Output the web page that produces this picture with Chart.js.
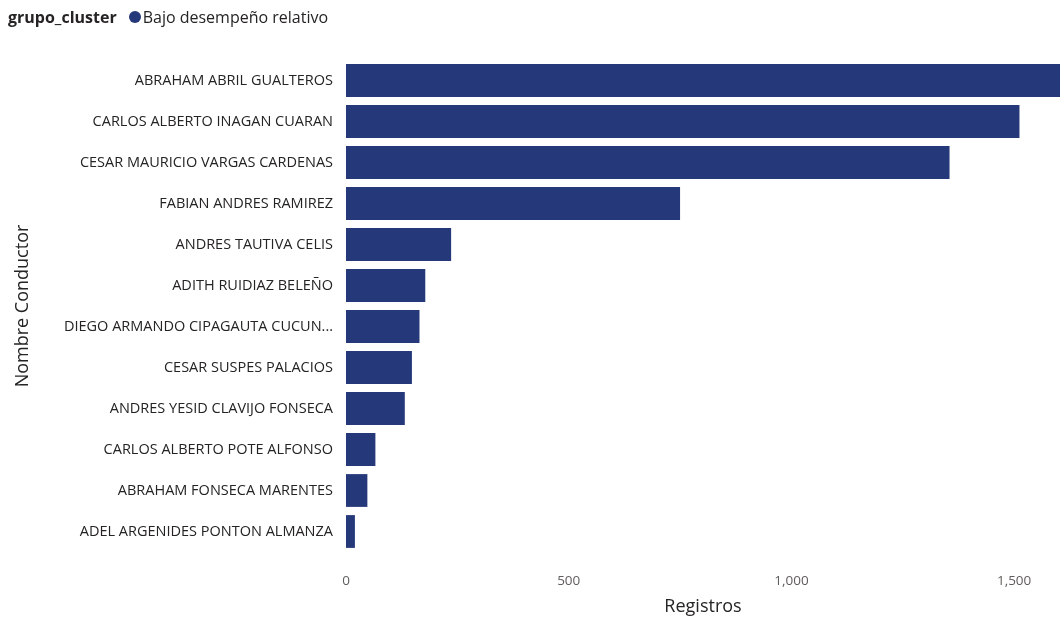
<!DOCTYPE html>
<html>
<head>
<meta charset="utf-8">
<script src="https://cdn.jsdelivr.net/npm/chart.js@4.4.1/dist/chart.umd.min.js"></script>
<style>
  html, body { margin: 0; padding: 0; background: #fff; }
  #wrap { position: relative; width: 1060px; height: 618px; }
  #legend { position: absolute; left: 8px; top: 6px; font-family: "Open Sans", sans-serif; font-size: 16px; color: #252423; display: flex; align-items: center; white-space: nowrap; line-height: 22px; }
  #legend b { font-weight: 700; margin-right: 12px; }
  #legend .dot { width: 12px; height: 12px; border-radius: 50%; background: rgb(37,57,122); display: inline-block; margin-right: 2px; }
</style>
</head>
<body>
<div id="wrap">
  <canvas id="c" width="1060" height="618"></canvas>
  <div id="legend"><b>grupo_cluster</b><span class="dot"></span><span>Bajo desempeño relativo</span></div>
</div>
<script>
const categories = [
  "ABRAHAM ABRIL GUALTEROS",
  "CARLOS ALBERTO INAGAN CUARAN",
  "CESAR MAURICIO VARGAS CARDENAS",
  "FABIAN ANDRES RAMIREZ",
  "ANDRES TAUTIVA CELIS",
  "ADITH RUIDIAZ BELEÑO",
  "DIEGO ARMANDO CIPAGAUTA CUCUN...",
  "CESAR SUSPES PALACIOS",
  "ANDRES YESID CLAVIJO FONSECA",
  "CARLOS ALBERTO POTE ALFONSO",
  "ABRAHAM FONSECA MARENTES",
  "ADEL ARGENIDES PONTON ALMANZA"
];
const registros = [1603, 1512, 1355, 750, 236, 178, 165, 148, 132, 66, 48, 20];
const seriesName = "Bajo desempeño relativo";
const xTicks = [0, 500, 1000, 1500];

const ctx = document.getElementById('c').getContext('2d');
new Chart(ctx, {
  type: 'bar',
  data: {
    labels: categories,
    datasets: [{
      label: seriesName,
      data: registros,
      backgroundColor: 'rgb(37,57,122)',
      borderWidth: 0,
      categoryPercentage: 1.0,
      barPercentage: 0.8
    }]
  },
  options: {
    indexAxis: 'y',
    responsive: false,
    animation: false,
    layout: { padding: { top: 60, right: 0, bottom: 0, left: 0 } },
    plugins: { legend: { display: false }, tooltip: { enabled: false } },
    scales: {
      x: {
        min: 0,
        max: Math.max(...registros),
        border: { display: false },
        grid: { display: false, drawTicks: false },
        afterBuildTicks: s => { s.ticks = xTicks.map(v => ({ value: v })); },
        ticks: {
          padding: 21,
          color: '#605E5C',
          font: { family: 'Open Sans', size: 13.5 },
          callback: v => v.toLocaleString('en-US'),
          maxRotation: 0,
          autoSkip: false
        },
        title: {
          display: true,
          text: 'Registros',
          color: '#252423',
          font: { family: 'Open Sans', size: 18 },
          padding: { top: 0, bottom: 0 }
        },
        afterFit: s => { s.height = 66; }
      },
      y: {
        border: { display: false },
        grid: { display: false, drawTicks: false },
        ticks: {
          padding: 13,
          color: '#252423',
          font: { family: 'Open Sans', size: 14.5 }
        },
        title: {
          display: true,
          text: 'Nombre Conductor',
          color: '#252423',
          font: { family: 'Open Sans', size: 18 },
          padding: { top: 12, bottom: 0 }
        },
        afterFit: s => { s.width = 346; }
      }
    }
  }
});
</script>
</body>
</html>
